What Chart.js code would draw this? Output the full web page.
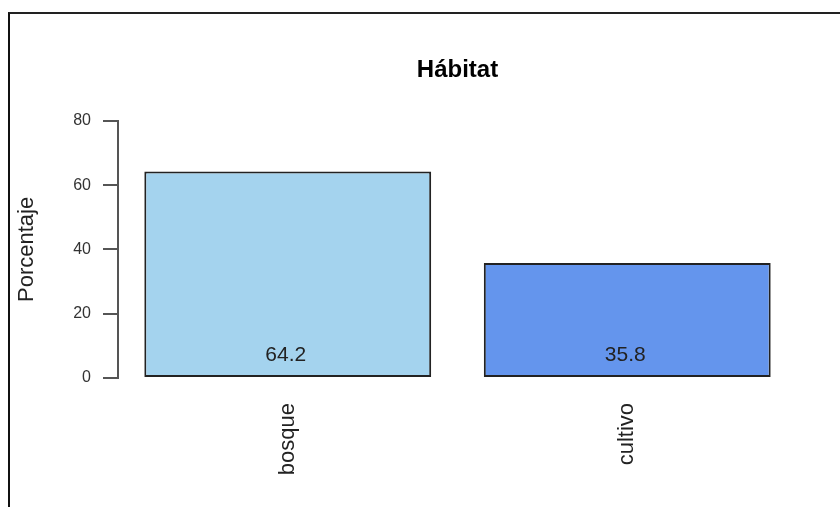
<!DOCTYPE html>
<html>
<head>
<meta charset="utf-8">
<script src="https://cdn.jsdelivr.net/npm/chart.js@4"></script>
<style>
    html, body { margin: 0; padding: 0; background: #fff; }
    #wrap { position: relative; width: 840px; height: 507px; overflow: hidden; }
    #frame { position: absolute; left: 8px; top: 12px; width: 900px; height: 600px;
             border-top: 2px solid #222; border-left: 2px solid #111; }
    #habitatChart { position: absolute; left: 0; top: 0; }
</style>
</head>
<body>
<div id="wrap">
    <div id="frame"></div>
    <canvas id="habitatChart" width="840" height="507"></canvas>
</div>
<script>
const categorias = ['bosque', 'cultivo'];
const porcentajes = [64.2, 35.8];
const colores = ['#A4D3EE', '#6495ED'];
const yTicks = [0, 20, 40, 60, 80];

const fuente = "'Liberation Sans', Arial, sans-serif";

// etiquetas de valor dentro de las barras, cerca de la base
const valueLabels = {
    id: 'valueLabels',
    afterDatasetsDraw(chart) {
        const ctx = chart.ctx;
        const meta = chart.getDatasetMeta(0);
        const y = chart.scales.y.getPixelForValue(7);
        ctx.save();
        ctx.font = '21px ' + fuente;
        ctx.fillStyle = '#222';
        ctx.textAlign = 'center';
        ctx.textBaseline = 'middle';
        meta.data.forEach((bar, i) => {
            ctx.fillText(porcentajes[i].toFixed(1), bar.x - 2, y);
        });
        ctx.restore();
    }
};

const habitatChart = document.getElementById('habitatChart');

new Chart(habitatChart, {
    type: 'bar',
    data: {
        labels: categorias,
        datasets: [{
            data: porcentajes,
            backgroundColor: colores,
            borderColor: '#222',
            borderWidth: 2,
            borderSkipped: false,
            barPercentage: 1,
            categoryPercentage: 0.845
        }]
    },
    options: {
        responsive: false,
        animation: false,
        layout: { padding: { left: 0, right: 43, top: 0, bottom: 0 } },
        plugins: {
            legend: { display: false },
            tooltip: { enabled: false },
            title: {
                display: true,
                text: 'Hábitat',
                fullSize: false,
                color: '#000',
                font: { family: fuente, size: 24, weight: 'bold' },
                padding: { top: 56, bottom: 36 }
            }
        },
        scales: {
            x: {
                grid: { display: false, drawTicks: false },
                border: { display: false },
                ticks: {
                    minRotation: 90,
                    maxRotation: 90,
                    padding: 25,
                    color: '#222',
                    font: { family: fuente, size: 22 }
                },
                afterFit(scale) { scale.height = 129; }
            },
            y: {
                min: 0,
                max: 80,
                afterBuildTicks(scale) { scale.ticks = yTicks.map(v => ({ value: v })); },
                grid: { drawOnChartArea: false, tickLength: 15, color: '#555', lineWidth: 2 },
                border: { display: true, color: '#555', width: 2 },
                ticks: {
                    padding: 12,
                    color: '#333',
                    font: { family: fuente, size: 16 }
                },
                title: {
                    display: true,
                    text: 'Porcentaje',
                    color: '#222',
                    font: { family: fuente, size: 22 },
                    padding: { top: 14, bottom: 0 }
                },
                afterFit(scale) { scale.width = 118; }
            }
        }
    },
    plugins: [valueLabels]
});
</script>
</body>
</html>
